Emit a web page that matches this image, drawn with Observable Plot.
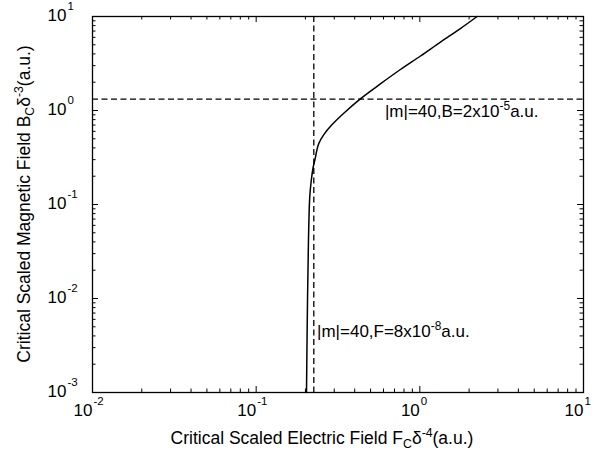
<!DOCTYPE html>
<html><head><meta charset="utf-8">
<script src="https://cdn.jsdelivr.net/npm/d3@7"></script>
<script src="https://cdn.jsdelivr.net/npm/@observablehq/plot@0.6"></script>
<style>
body{margin:0;background:#fff}
svg{font-family:"Liberation Sans",Arial,Helvetica,sans-serif}
</style>
</head><body><div id="chart"></div>
<script>
// Curve: critical scaled electric field vs critical scaled magnetic field
const curveF = [0.203, 0.206, 0.2087, 0.2125, 0.2171, 0.223, 0.228, 0.241, 0.259, 0.291, 0.343, 0.433, 0.574, 0.761, 1.009, 1.337, 1.77, 2.24];
const curveB = [0.001, 0.01, 0.0414, 0.1197, 0.180, 0.249, 0.294, 0.442, 0.553, 0.708, 0.935, 1.33, 1.92, 2.73, 3.80, 5.35, 7.45, 10];
// Dashed reference lines
const refF = [0.225];
const refB = [1.32];
// Axis ticks
const decadesX = [0.01, 0.1, 1, 10];
const decadesY = [0.001, 0.01, 0.1, 1, 10];
const xExp = ["-2", "-1", "0", "1"];
const yExp = ["-3", "-2", "-1", "0", "1"];
const minorMult = [2, 3, 4, 5, 6, 7, 8, 9];
// Annotations
const annoB = {x: 0.616, y: 0.842, pre: "|m|=40,B=2x10", sup: "-5", post: "a.u."};
const annoF = {x: 0.237, y: 0.00385, pre: "|m|=40,F=8x10", sup: "-8", post: "a.u."};

const W = 594, H = 451;
const mT = 16, mL = 92, mR = 11, mB = 59;
const innerW = W - mL - mR, innerH = H - mT - mB;

const minorX = decadesX.slice(0, -1).flatMap(d => minorMult.map(m => d * m));
const minorY = decadesY.slice(0, -1).flatMap(d => minorMult.map(m => d * m));
const curve = curveF.map((f, i) => ({f, b: curveB[i]}));

const majL = 6, minL = 3.5;
const tickStyle = {stroke: "black", strokeWidth: 1};

const plot = Plot.plot({
  width: W, height: H,
  marginTop: mT, marginLeft: mL, marginRight: mR, marginBottom: mB,
  x: {type: "log", domain: [0.01, 10], axis: null},
  y: {type: "log", domain: [0.001, 10], axis: null},
  style: {fontFamily: '"Liberation Sans", Arial, sans-serif', color: "black", background: "white"},
  marks: [
    // ticks bottom/top
    Plot.tickX(decadesX, {x: d => d, insetTop: innerH - majL, ...tickStyle}),
    Plot.tickX(decadesX, {x: d => d, insetBottom: innerH - majL, ...tickStyle}),
    Plot.tickX(minorX, {x: d => d, insetTop: innerH - minL, ...tickStyle}),
    Plot.tickX(minorX, {x: d => d, insetBottom: innerH - minL, ...tickStyle}),
    // ticks left/right
    Plot.tickY(decadesY, {y: d => d, insetRight: innerW - majL, ...tickStyle}),
    Plot.tickY(decadesY, {y: d => d, insetLeft: innerW - majL, ...tickStyle}),
    Plot.tickY(minorY, {y: d => d, insetRight: innerW - minL, ...tickStyle}),
    Plot.tickY(minorY, {y: d => d, insetLeft: innerW - minL, ...tickStyle}),
    // dashed reference lines
    Plot.ruleY(refB, {y: d => d, stroke: "black", strokeWidth: 1.3, strokeDasharray: "6,3.5"}),
    Plot.ruleX(refF, {x: d => d, stroke: "black", strokeWidth: 1.3, strokeDasharray: "6,3.5"}),
    // curve
    Plot.line(curve, {x: "f", y: "b", stroke: "black", strokeWidth: 1.5, curve: "catmull-rom"}),
    Plot.frame({stroke: "black", strokeWidth: 1.3}),
    // x tick labels
    Plot.text(decadesX, {x: d => d, text: () => "10", frameAnchor: "bottom", textAnchor: "end", lineAnchor: "bottom", dx: 0, dy: 23, fontSize: 17, fill: "black"}),
    Plot.text(decadesX, {x: d => d, text: (d, i) => xExp[i], frameAnchor: "bottom", textAnchor: "start", lineAnchor: "bottom", dx: 1, dy: 12, fontSize: 11.5, fill: "black"}),
    // y tick labels
    Plot.text(decadesY, {y: d => d, text: () => "10", frameAnchor: "left", textAnchor: "start", lineAnchor: "middle", dx: -45, dy: -1, fontSize: 17, fill: "black"}),
    Plot.text(decadesY, {y: d => d, text: (d, i) => yExp[i], frameAnchor: "left", textAnchor: "start", lineAnchor: "middle", dx: -25, dy: -10, fontSize: 11.5, fill: "black"})
  ]
});
document.getElementById("chart").appendChild(plot);

const svg = d3.select(plot);
const sx = plot.scale("x"), sy = plot.scale("y");

function richText(g, parts) {
  parts.forEach(p => {
    const t = g.append("tspan").text(p.t);
    if (p.sup) t.attr("font-size", "0.7em").attr("dy", "-0.6em");
    if (p.sub) t.attr("font-size", "0.7em").attr("dy", "0.35em");
    if (p.reset) t.attr("dy", p.reset);
  });
}

function anno(a) {
  const g = svg.append("text")
    .attr("x", sx.apply(a.x)).attr("y", sy.apply(a.y))
    .attr("text-anchor", "start")
    .attr("font-size", 17).attr("fill", "black");
  richText(g, [{t: a.pre}, {t: a.sup, sup: true}, {t: a.post, reset: "0.42em"}]);
}
anno(annoB);
anno(annoF);

// axis titles
const xl = svg.append("text")
  .attr("x", 322).attr("y", 444)
  .attr("text-anchor", "middle").attr("font-size", 17.5).attr("fill", "black");
richText(xl, [{t: "Critical Scaled Electric Field F"}, {t: "C", sub: true}, {t: "δ", reset: "-0.245em"}, {t: "-4", sup: true}, {t: "(a.u.)", reset: "0.42em"}]);

const yl = svg.append("text")
  .attr("transform", `translate(30,${(mT + H - mB) / 2}) rotate(-90)`)
  .attr("text-anchor", "middle").attr("font-size", 17.5).attr("fill", "black");
richText(yl, [{t: "Critical Scaled Magnetic Field B"}, {t: "C", sub: true}, {t: "δ", reset: "-0.245em"}, {t: "-3", sup: true}, {t: "(a.u.)", reset: "0.42em"}]);
</script>
</body></html>
